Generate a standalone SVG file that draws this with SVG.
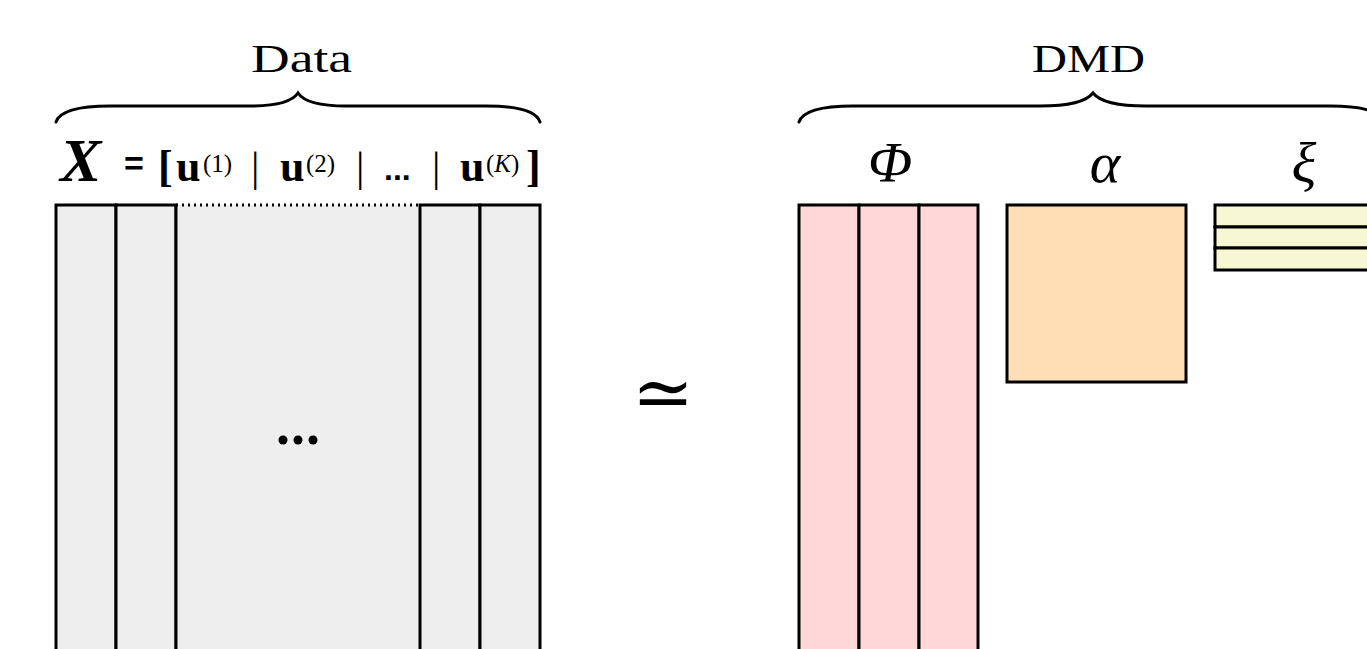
<svg xmlns="http://www.w3.org/2000/svg" width="1367" height="649" viewBox="0 0 1367 649">
<style>
.cell{stroke:#000;stroke-width:3}
.brace{fill:none;stroke:#000;stroke-width:3;stroke-linecap:round}
.serif{font-family:"Liberation Serif","DejaVu Serif",serif;fill:#000}
.lbl{font-size:40px}
.sym{font-size:58px;font-style:italic}
.big{font-size:44px}
.sup{font-size:25px}
.bar{font-size:42px}
</style>
<rect width="1367" height="649" fill="#fff"/>
<g id="data-brace">
<path class="brace" d="M56,122 C60,110 80,106 110,106 L250,106 C275,106 292,102 298,93 C304,102 321,106 346,106 L486,106 C516,106 536,110 540,122"/>
<text class="serif lbl" x="251" y="72" textLength="101" lengthAdjust="spacingAndGlyphs">Data</text>
</g>
<g id="dmd-brace">
<path class="brace" d="M799,122 C803,110 823,106 853,106 L1040,106 C1068,106 1086,102 1093,93 C1100,102 1118,106 1146,106 L1330,106 C1360,106 1380,110 1384,122"/>
<text class="serif lbl" x="1032" y="72" textLength="113" lengthAdjust="spacingAndGlyphs">DMD</text>
</g>
<g id="X-label">
<text class="serif">
<tspan x="60" y="181" font-size="62" font-style="italic" font-weight="bold">X</tspan>
<tspan x="124" y="175" font-family="Liberation Sans,sans-serif" font-weight="bold" font-size="34">=</tspan>
<tspan x="158" y="181" class="big" font-weight="bold">[</tspan>
<tspan x="176" y="181" class="big" font-weight="bold">u</tspan>
<tspan x="203" y="172" class="sup">(1)</tspan>
<tspan x="251" y="181" class="bar">|</tspan>
<tspan x="280" y="181" class="big" font-weight="bold">u</tspan>
<tspan x="306" y="172" class="sup">(2)</tspan>
<tspan x="356" y="181" class="bar">|</tspan>
<tspan x="384" y="180" font-size="32" font-weight="bold" font-family="Liberation Sans,sans-serif">...</tspan>
<tspan x="432" y="181" class="bar">|</tspan>
<tspan x="460" y="181" class="big" font-weight="bold">u</tspan>
<tspan x="486" y="172" class="sup">(</tspan><tspan y="172" class="sup" font-style="italic">K</tspan><tspan y="172" class="sup">)</tspan>
<tspan x="526" y="181" class="big" font-weight="bold">]</tspan>
</text>
</g>
<g id="X-matrix">
<rect class="cell" x="56" y="205" width="60" height="460" fill="#eeeeee"/>
<rect class="cell" x="116" y="205" width="60" height="460" fill="#eeeeee"/>
<rect x="176" y="205" width="244" height="460" fill="#eeeeee"/>
<line x1="176" y1="205" x2="420" y2="205" stroke="#000" stroke-width="3" stroke-dasharray="2,4"/>
<rect class="cell" x="420" y="205" width="60" height="460" fill="#eeeeee"/>
<rect class="cell" x="480" y="205" width="60" height="460" fill="#eeeeee"/>
<line x1="176" y1="205" x2="176" y2="649" stroke="#000" stroke-width="3"/>
<circle cx="283" cy="440" r="4.5"/><circle cx="298" cy="440" r="4.5"/><circle cx="313" cy="440" r="4.5"/>
</g>
<g id="approx">
<text class="serif" x="663" y="418" font-size="74" text-anchor="middle">≃</text>
</g>
<g id="Phi">
<text class="serif sym" x="890" y="182" text-anchor="middle">Φ</text>
<rect class="cell" x="799" y="205" width="60" height="460" fill="#ffd7d9"/>
<rect class="cell" x="859" y="205" width="60" height="460" fill="#ffd7d9"/>
<rect class="cell" x="919" y="205" width="59" height="460" fill="#ffd7d9"/>
</g>
<g id="alpha">
<text class="serif sym" x="1105" y="182" text-anchor="middle">α</text>
<rect class="cell" x="1007" y="205" width="179" height="177" fill="#ffdeb5"/>
</g>
<g id="xi">
<text class="serif sym" x="1304" y="182" text-anchor="middle">ξ</text>
<rect class="cell" x="1215" y="205" width="170" height="22" fill="#f6f8d4"/>
<rect class="cell" x="1215" y="227" width="170" height="21" fill="#f6f8d4"/>
<rect class="cell" x="1215" y="248" width="170" height="22" fill="#f6f8d4"/>
</g>
</svg>
